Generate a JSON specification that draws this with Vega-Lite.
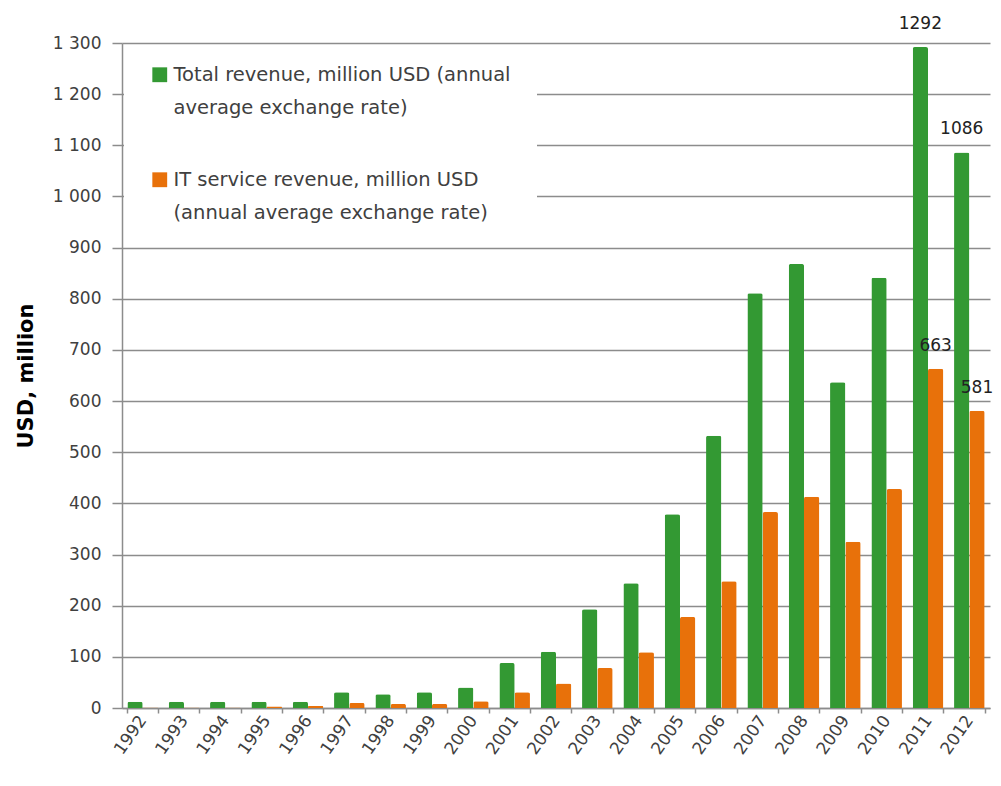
{
  "$schema": "https://vega.github.io/schema/vega-lite/v6.json",
  "width": 868,
  "height": 665,
  "autosize": {"type": "none"},
  "padding": {"left": 122, "top": 43, "right": 11, "bottom": 78},
  "background": "white",
  "config": {
    "view": {"stroke": null},
    "font": "DejaVu Sans",
    "axis": {"labelColor": "#404040", "labelFontSize": 17, "domainColor": "#8c8c8c", "tickColor": "#8c8c8c", "domainWidth": 1.5, "tickWidth": 1.5}
  },
  "data": {
    "values": [
      {"year": "1992", "series": "Total", "value": 12},
      {"year": "1993", "series": "Total", "value": 12},
      {"year": "1994", "series": "Total", "value": 12},
      {"year": "1995", "series": "Total", "value": 12},
      {"year": "1996", "series": "Total", "value": 12},
      {"year": "1997", "series": "Total", "value": 31},
      {"year": "1998", "series": "Total", "value": 27},
      {"year": "1999", "series": "Total", "value": 31},
      {"year": "2000", "series": "Total", "value": 40},
      {"year": "2001", "series": "Total", "value": 88},
      {"year": "2002", "series": "Total", "value": 110},
      {"year": "2003", "series": "Total", "value": 193},
      {"year": "2004", "series": "Total", "value": 244},
      {"year": "2005", "series": "Total", "value": 379},
      {"year": "2006", "series": "Total", "value": 532},
      {"year": "2007", "series": "Total", "value": 811},
      {"year": "2008", "series": "Total", "value": 868},
      {"year": "2009", "series": "Total", "value": 637},
      {"year": "2010", "series": "Total", "value": 841},
      {"year": "2011", "series": "Total", "value": 1292},
      {"year": "2012", "series": "Total", "value": 1086},
      {"year": "1992", "series": "IT", "value": 1},
      {"year": "1993", "series": "IT", "value": 1},
      {"year": "1994", "series": "IT", "value": 1},
      {"year": "1995", "series": "IT", "value": 3},
      {"year": "1996", "series": "IT", "value": 4},
      {"year": "1997", "series": "IT", "value": 10},
      {"year": "1998", "series": "IT", "value": 8},
      {"year": "1999", "series": "IT", "value": 8},
      {"year": "2000", "series": "IT", "value": 13},
      {"year": "2001", "series": "IT", "value": 31},
      {"year": "2002", "series": "IT", "value": 48},
      {"year": "2003", "series": "IT", "value": 78},
      {"year": "2004", "series": "IT", "value": 109},
      {"year": "2005", "series": "IT", "value": 178},
      {"year": "2006", "series": "IT", "value": 248},
      {"year": "2007", "series": "IT", "value": 383},
      {"year": "2008", "series": "IT", "value": 413},
      {"year": "2009", "series": "IT", "value": 325},
      {"year": "2010", "series": "IT", "value": 428},
      {"year": "2011", "series": "IT", "value": 663},
      {"year": "2012", "series": "IT", "value": 581}
    ]
  },
  "encoding": {
    "x": {
      "field": "year", "type": "nominal",
      "scale": {"paddingInner": 0.26, "paddingOuter": 0.13},
      "axis": {"title": null, "labelAngle": -55, "labelFontSize": 17, "tickBand": "extent", "tickSize": 5, "labelPadding": 4}
    },
    "xOffset": {"field": "series", "type": "nominal", "sort": ["Total", "IT"], "scale": {"paddingInner": 0}},
    "y": {
      "field": "value", "type": "quantitative",
      "scale": {"domain": [0, 1300], "nice": false},
      "axis": {
        "title": "USD, million", "titleFontSize": 21, "titleFontWeight": "bold", "titleColor": "#000000", "titlePadding": 16,
        "values": [0,100,200,300,400,500,600,700,800,900,1000,1100,1200,1300],
        "labelOverlap": false, "labelFlush": false,
        "labelExpr": "replace(format(datum.value, ','), ',', ' ')",
        "grid": true, "gridColor": "#8c8c8c", "gridWidth": 1.5, "tickSize": 10, "labelPadding": 11
      }
    }
  },
  "layer": [
    {
      "mark": {"type": "bar", "cornerRadiusTopLeft": 2, "cornerRadiusTopRight": 2},
      "encoding": {
        "color": {
          "field": "series", "type": "nominal",
          "scale": {"domain": ["Total", "IT"], "range": ["#339933", "#e8710a"]},
          "legend": {
            "title": null, "orient": "none", "legendX": 2, "legendY": 2, "padding": 20,
            "fillColor": "white", "strokeColor": null,
            "symbolType": "square", "symbolSize": 220, "symbolStrokeWidth": 0, "symbolOffset": 6,
            "labelFont": "DejaVu Sans", "labelFontSize": 19.5, "labelColor": "#404040", "labelLimit": 0,
            "rowPadding": 51, "labelOffset": 4,
            "labelExpr": "datum.label == 'Total' ? ['Total revenue, million USD  (annual', 'average exchange rate)'] : ['IT service revenue, million USD', '(annual average exchange rate)']",
            "encode": {"labels": {"update": {"lineHeight": {"value": 33}}}}
          }
        }
      }
    },
    {
      "transform": [{"filter": "datum.year == '2011' || datum.year == '2012'"}],
      "mark": {"type": "text", "baseline": "bottom", "dy": -14, "fontSize": 17, "color": "#222222"},
      "encoding": {"text": {"field": "value", "type": "quantitative"}}
    }
  ]
}
